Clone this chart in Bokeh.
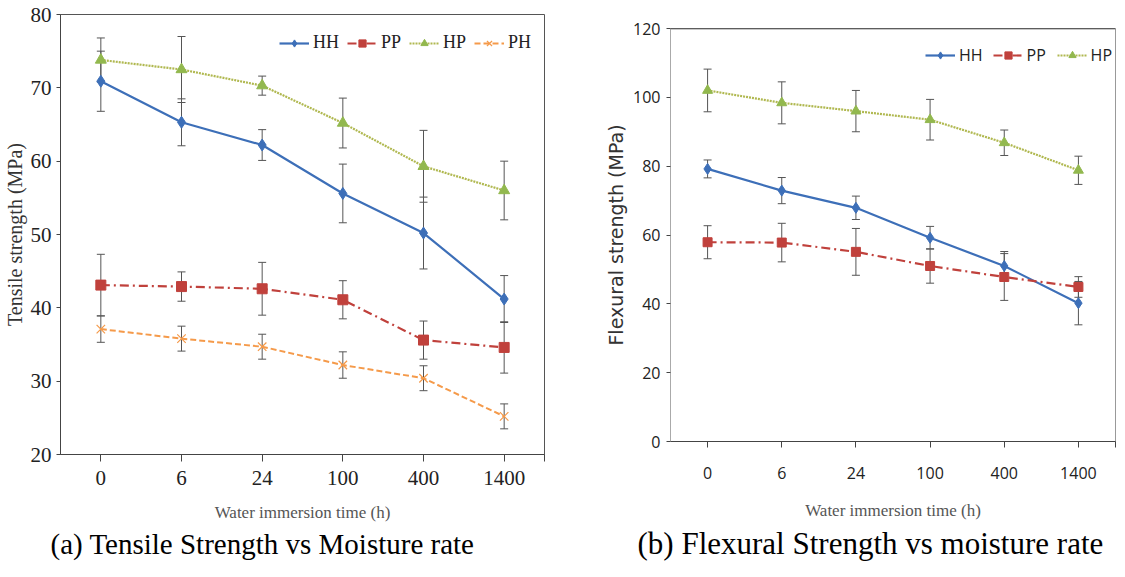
from bokeh.plotting import figure
from bokeh.layouts import row, column
from bokeh.models import (ColumnDataSource, Whisker, TeeHead, FixedTicker, Legend,
                          LegendItem, Title, Span, Range1d)
from bokeh.embed import file_html
from bokeh.resources import INLINE

# ---------------- data ----------------
times = ["0", "6", "24", "100", "400", "1400"]

# (a) Tensile strength (MPa)
t_hh = [70.9, 65.3, 62.2, 55.6, 50.2, 41.2]
t_hh_err = [4.1, 3.2, 2.1, 4.0, 4.9, 3.2]
t_pp = [43.1, 42.9, 42.6, 41.1, 35.6, 34.6]
t_pp_err = [4.2, 2.0, 3.6, 2.6, 2.6, 3.5]
t_hp = [73.8, 72.5, 70.3, 65.2, 59.3, 56.0]
t_hp_err = [3.0, 4.5, 1.3, 3.4, 4.9, 4.0]
t_ph = [37.1, 35.8, 34.7, 32.2, 30.4, 25.2]
t_ph_err = [1.8, 1.7, 1.7, 1.8, 1.7, 1.7]

# (b) Flexural strength (MPa)
f_hh = [79.2, 72.9, 67.9, 59.2, 51.0, 40.2]
f_hh_err = [2.6, 3.8, 3.4, 3.3, 4.2, 6.3]
f_pp = [57.9, 57.8, 55.1, 51.0, 47.8, 44.9]
f_pp_err = [4.8, 5.6, 6.8, 5.0, 6.8, 3.0]
f_hp = [102.0, 98.4, 96.0, 93.5, 86.8, 78.8]
f_hp_err = [6.2, 6.1, 6.0, 5.9, 3.7, 4.1]

# ---------------- styles ----------------
STY = {
    "HH": dict(color="#3d6fb8", mcolor="#3d6fb8", dash="solid", lw=2.2, marker="diamond"),
    "PP": dict(color="#c0413c", mcolor="#c0413c", dash="9 4 2 4", lw=2.2, marker="square"),
    "HP": dict(color="#b0b850", mcolor="#92b84e", dash="2 1", lw=2.2, marker="triangle"),
    "PH": dict(color="#f59a4a", mcolor="#f59a4a", dash="6 3", lw=2.0, marker="x"),
}

xs = list(range(len(times)))


def make_fig(cfg, series):
    p = figure(width=cfg["w"], height=cfg["h"], output_backend="svg",
               toolbar_location=None, title=None,
               x_range=Range1d(-0.5, 5.5), y_range=Range1d(cfg["ylo"], cfg["yhi"]),
               min_border_left=cfg["mb"][0], min_border_right=cfg["mb"][1],
               min_border_top=cfg["mb"][2], min_border_bottom=cfg["mb"][3],
               background_fill_color="white", border_fill_color="white")
    p.xgrid.visible = False
    p.ygrid.visible = False

    # x axis
    p.xaxis.ticker = FixedTicker(ticks=xs + [5.5])
    ov = {i: t for i, t in zip(xs, times)}
    ov[5.5] = ""
    p.xaxis.major_label_overrides = ov
    p.xaxis.minor_tick_line_color = None
    p.xaxis.major_tick_in = 0
    p.xaxis.major_tick_out = cfg["xtick_len"]
    p.xaxis.major_label_standoff = cfg["xtick_standoff"]
    p.xaxis.major_label_text_font = cfg["tick_font"]
    p.xaxis.major_label_text_font_size = cfg["tick_size"]
    p.xaxis.major_label_text_color = "#222222"
    p.xaxis.axis_label = "Water immersion time (h)"
    p.xaxis.axis_label_text_font = "Liberation Serif"
    p.xaxis.axis_label_text_font_size = "17px"
    p.xaxis.axis_label_text_font_style = "normal"
    p.xaxis.axis_label_text_color = "#555555"
    p.xaxis.axis_label_standoff = cfg["xlab_standoff"]
    p.xaxis.axis_line_color = "#444444"
    p.xaxis.major_tick_line_color = "#444444"

    # y axis
    p.yaxis.ticker = FixedTicker(ticks=cfg["yticks"])
    p.yaxis.minor_tick_line_color = None
    p.yaxis.major_tick_in = 0
    p.yaxis.major_tick_out = 4
    p.yaxis.major_label_standoff = cfg["ytick_standoff"]
    p.yaxis.major_label_text_font = cfg["tick_font"]
    p.yaxis.major_label_text_font_size = cfg["tick_size"]
    p.yaxis.major_label_text_color = "#222222"
    p.yaxis.axis_label = cfg["ylab"]
    p.yaxis.axis_label_text_font = cfg["ylab_font"]
    p.yaxis.axis_label_text_font_size = cfg["ylab_size"]
    p.yaxis.axis_label_text_font_style = "normal"
    p.yaxis.axis_label_text_color = "#333333"
    p.yaxis.axis_label_standoff = cfg["ylab_standoff"]
    p.yaxis.major_tick_line_color = "#444444"
    if cfg["dark"]:
        p.yaxis.axis_line_color = "#444444"
        p.outline_line_color = "#555555"
    else:
        p.yaxis.axis_line_color = "#aaaaaa"
        p.outline_line_color = "#999999"
        p.add_layout(Span(location=cfg["yhi"], dimension="width",
                          line_color="#222222", line_width=1.5))

    items = []
    for name, ys, errs in series:
        s = STY[name]
        src = ColumnDataSource(dict(x=xs, y=ys,
                                    lo=[a - b for a, b in zip(ys, errs)],
                                    hi=[a + b for a, b in zip(ys, errs)]))
        w = Whisker(source=src, base="x", lower="lo", upper="hi",
                    line_color="#555555", line_width=1,
                    lower_head=TeeHead(size=8, line_color="#555555", line_width=1),
                    upper_head=TeeHead(size=8, line_color="#555555", line_width=1))
        p.add_layout(w)
        ln = p.line("x", "y", source=src, line_color=s["color"], line_width=s["lw"],
                    line_dash=s["dash"])
        if s["marker"] == "x":
            mk = p.scatter("x", "y", source=src, marker="x", size=cfg["msize"][name],
                           line_color=s["mcolor"], line_width=1.2)
        else:
            mk = p.scatter("x", "y", source=src, marker=s["marker"],
                           size=cfg["msize"][name],
                           fill_color=s["mcolor"], line_color=s["mcolor"])
        items.append(LegendItem(label=name, renderers=[ln, mk]))

    leg = Legend(items=items, orientation="horizontal", location=cfg["leg_loc"],
                 glyph_width=30, glyph_height=18, label_standoff=4,
                 spacing=cfg["leg_spacing"], padding=4, margin=0,
                 background_fill_alpha=0, border_line_alpha=0,
                 label_text_font=cfg["leg_font"], label_text_font_size=cfg["leg_size"],
                 label_text_color="#222222")
    p.add_layout(leg)

    cap = Title(text=cfg["caption"], align="left", offset=cfg["cap_offset"],
                standoff=cfg["cap_standoff"], text_font="Liberation Serif",
                text_font_size=cfg["cap_size"], text_font_style="normal",
                text_color="#000000")
    p.add_layout(cap, "below")
    return p


left_cfg = dict(
    w=560, h=561, mb=(58, 16, 14, 107), ylo=20, yhi=80,
    yticks=[20, 30, 40, 50, 60, 70, 80],
    tick_font="Liberation Serif", tick_size="21px",
    ylab="Tensile strength (MPa)", ylab_font="Liberation Serif", ylab_size="20px",
    ylab_standoff=2, ytick_standoff=5,
    caption="(a) Tensile Strength vs Moisture rate", cap_offset=-10, cap_standoff=2,
    cap_size="29px",
    xlab_standoff=15, xtick_standoff=9, xtick_len=7,
    msize={"HH": 12, "PP": 10, "HP": 11, "PH": 12},
    leg_loc=(215, 397), leg_font="Liberation Serif", leg_size="18px", leg_spacing=8,
    dark=True,
)

right_cfg = dict(
    w=557, h=561, mb=(110, 2, 28, 118), ylo=0, yhi=120,
    yticks=[0, 20, 40, 60, 80, 100, 120],
    tick_font="Open Sans", tick_size="16px",
    ylab="Flexural strength (MPa)", ylab_font="DejaVu Sans", ylab_size="19px",
    ylab_standoff=3, ytick_standoff=6,
    caption="(b) Flexural Strength vs moisture rate", cap_offset=-33, cap_standoff=2,
    cap_size="31px",
    xlab_standoff=19, xtick_standoff=19, xtick_len=6,
    msize={"HH": 11, "PP": 9, "HP": 10, "PH": 10},
    leg_loc=(251, 371), leg_font="Open Sans", leg_size="16px", leg_spacing=10,
    dark=False,
)

left = make_fig(left_cfg, [("HH", t_hh, t_hh_err), ("PP", t_pp, t_pp_err),
                           ("HP", t_hp, t_hp_err), ("PH", t_ph, t_ph_err)])
right = make_fig(right_cfg, [("HH", f_hh, f_hh_err), ("PP", f_pp, f_pp_err),
                             ("HP", f_hp, f_hp_err)])

layout = row(column(left), column(right))
open("out.html", "w").write(file_html(layout, INLINE))
